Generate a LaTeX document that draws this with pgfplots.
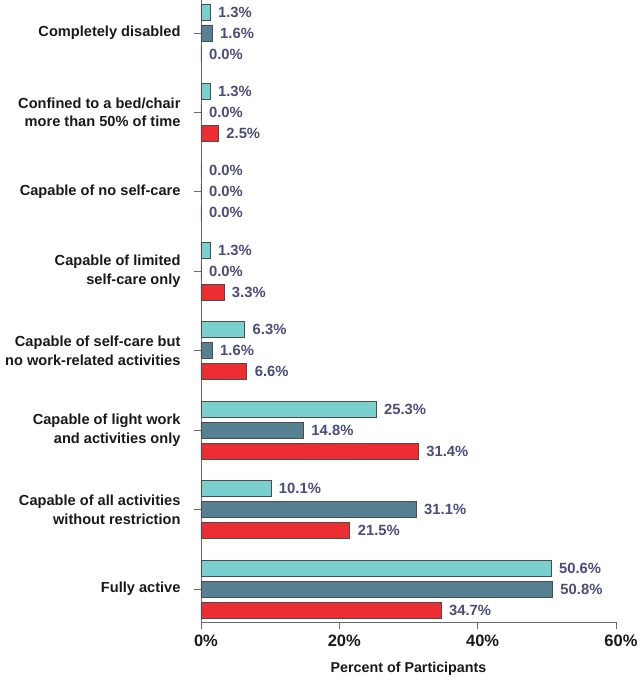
\documentclass[border=0pt]{standalone}
\usepackage{pgfplots}
\pgfplotsset{compat=1.18}
\usepackage{fontspec}
\setmainfont{Liberation Sans}
\definecolor{cteal}{HTML}{7ACFCF}
\definecolor{cslate}{HTML}{568192}
\definecolor{cred}{HTML}{EC2D32}
\definecolor{cval}{HTML}{4A4C7E}
\definecolor{caxis}{HTML}{6A6A6A}
\begin{document}
\begin{tikzpicture}
\path[use as bounding box] (-201pt,-59pt) rectangle (439pt,622pt);
\begin{axis}[
  name=ax,
  at={(0pt,0pt)}, anchor=south west,
  scale only axis,
  width=415pt, height=622pt,
  xmin=0, xmax=60,
  ymin=-0.415, ymax=7.415,
  xbar, bar width=16pt,
  axis x line*=bottom,
  axis y line*=left,
  axis line style={caxis, line width=0.8pt},
  tick style={caxis, line width=0.8pt},
  major tick length=7pt,
  xtick={0,20,40,60},
  xticklabels={0\%,20\%,40\%,60\%},
  xtick pos=bottom, ytick pos=left,
  tick align=outside,
  ytick={0,1,2,3,4,5,6,7},
  yticklabels={Fully active,
    {Capable of all activities\\without restriction},
    {Capable of light work\\and activities only},
    {Capable of self-care but\\no work-related activities},
    {Capable of limited\\self-care only},
    Capable of no self-care,
    {Confined to a bed/chair\\more than 50\% of time},
    Completely disabled},
  yticklabel style={align=right, font=\fontsize{14.6}{18.5}\selectfont\bfseries, text=black!90, xshift=-10pt},
  xticklabel style={font=\fontsize{16.5}{18}\selectfont\bfseries, text=black!90, yshift=-2pt, xshift=5pt},
  xlabel={Percent of Participants},
  xlabel style={font=\fontsize{14.3}{16}\selectfont\bfseries, text=black!90, yshift=-9pt},
  nodes near coords={\pgfmathprintnumber[fixed,fixed zerofill,precision=1]{\pgfplotspointmeta}\%},
  point meta=x,
  nodes near coords style={font=\fontsize{14.8}{17}\selectfont\bfseries, text=cval, anchor=west, xshift=4.5pt},
  /pgf/number format/assume math mode=true,
]
\addplot[bar shift=21pt, fill=cteal, draw=black!70, line width=0.6pt] coordinates {
(50.6,0) (10.1,1) (25.3,2) (6.3,3) (1.3,4) (0.0,5) (1.3,6) (1.3,7)};
\addplot[bar shift=0pt, fill=cslate, draw=black!70, line width=0.6pt] coordinates {
(50.8,0) (31.1,1) (14.8,2) (1.6,3) (0.0,4) (0.0,5) (0.0,6) (1.6,7)};
\addplot[bar shift=-21pt, fill=cred, draw=black!70, line width=0.6pt] coordinates {
(34.7,0) (21.5,1) (31.4,2) (6.6,3) (3.3,4) (0.0,5) (2.5,6) (0.0,7)};
\end{axis}
\end{tikzpicture}
\end{document}
